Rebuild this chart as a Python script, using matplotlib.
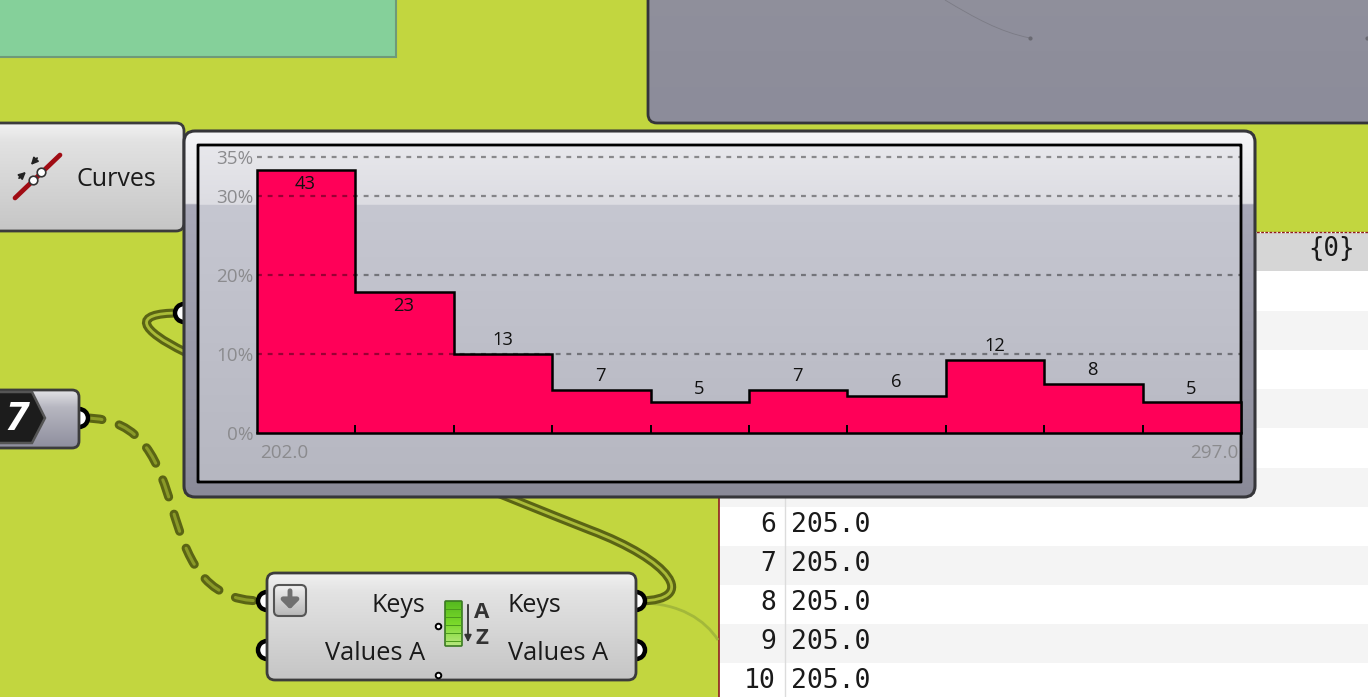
import numpy as np
import matplotlib
matplotlib.use('Agg')
import matplotlib.pyplot as plt
from matplotlib.patches import FancyBboxPatch, Circle, Polygon, PathPatch, Rectangle
from matplotlib.path import Path

# histogram data
counts = [43, 23, 13, 7, 5, 7, 6, 12, 8, 5]
x_min = 202.0
x_max = 297.0
y_ticks = [0, 10, 20, 30, 35]
y_labels = ['0%', '10%', '20%', '30%', '35%']

# table rows that stick out below the popup
row_ids = [6, 7, 8, 9, 10]
row_vals = ['205.0', '205.0', '205.0', '205.0', '205.0']

W, H = 1368, 697
plt.rcParams['font.family'] = ['Open Sans', 'DejaVu Sans']

CANVAS = '#c2d63f'
WIRE = '#5a6414'
GREY_TXT = '#8b8b8e'

fig = plt.figure(figsize=(W / 100, H / 100), dpi=100, facecolor=CANVAS)

# background layer, works in screen pixels
bg = fig.add_axes([0, 0, 1, 1])
bg.set_xlim(0, W)
bg.set_ylim(H, 0)
bg.axis('off')


def hexrgb(c):
    return [int(c[i:i + 2], 16) / 255 for i in (1, 3, 5)]


def grad_box(x0, y0, x1, y1, stops, r=8, edge='#3c3c3c', lw=2.0, z=2):
    patch = FancyBboxPatch((x0, y0), x1 - x0, y1 - y0, boxstyle='round,pad=0,rounding_size=%g' % r,
                           fc='none', ec=edge, lw=lw, zorder=z + 0.1)
    bg.add_patch(patch)
    ys = np.arange(int(y1 - y0) + 1) / (y1 - y0)
    pos = [s[0] for s in stops]
    cols = np.array([hexrgb(s[1]) for s in stops])
    img = np.stack([np.interp(ys, pos, cols[:, k]) for k in range(3)], axis=1)[:, None, :]
    im = bg.imshow(img, extent=(x0, x1, y1, y0), aspect='auto', zorder=z, interpolation='bilinear')
    clip = FancyBboxPatch((x0, y0), x1 - x0, y1 - y0, boxstyle='round,pad=0,rounding_size=%g' % r,
                          transform=bg.transData, fc='none', ec='none')
    im.set_clip_path(clip)


def port(x, y, z=1.5):
    bg.add_patch(Circle((x, y), 9, fc='white', ec='black', lw=3.2, zorder=z))


def wire(verts, codes, dashed=False):
    path = Path(verts, codes)
    if dashed:
        bg.add_patch(PathPatch(path, fc='none', ec=WIRE, lw=6.5, ls=(0, (2.0, 2.0)), capstyle='round', zorder=1))
        bg.add_patch(PathPatch(path, fc='none', ec='#8a9a28', lw=2.2, ls=(0, (5.9, 5.92)), capstyle='round', zorder=1.1))
    else:
        bg.add_patch(PathPatch(path, fc='none', ec=WIRE, lw=6.5, zorder=1))
        bg.add_patch(PathPatch(path, fc='none', ec='#aabb38', lw=2.0, zorder=1.1))


# panels at the top
bg.add_patch(Rectangle((-5, -5), 401, 62, fc='#85d09a', ec='#6f9a78', lw=1.5, zorder=1))
grad_box(648, -20, W + 20, 123, [(0, '#90909c'), (1, '#8c8c9a')], r=9, edge='#34343a')
curve = Path([(945, 0), (975, 18), (1000, 32), (1030, 38)], [Path.MOVETO, Path.CURVE4, Path.CURVE4, Path.CURVE4])
bg.add_patch(PathPatch(curve, fc='none', ec='#7b7b85', lw=0.6, zorder=3))
bg.scatter([1030, 1367], [38, 38], s=4, color='#6a6a72', zorder=3)

# table on the right
bg.add_patch(Rectangle((719, 232), W - 719, H - 232, fc='white', ec='none', zorder=0.5))
bg.add_patch(Rectangle((719, 233), W - 719, 38, fc='#d6d6d6', ec='none', zorder=0.6))
for i in range(11):
    if i % 2 == 1:
        bg.add_patch(Rectangle((719, 272 + i * 39.1), W - 719, 39.1, fc='#f4f4f4', ec='none', zorder=0.6))
bg.plot([719, W], [231.5, 231.5], color='#8f1f1f', lw=1, ls=(0, (2, 1)), zorder=0.7)
bg.plot([718.5, 718.5], [232, H], color='#8f1f1f', lw=1.2, zorder=0.7)
bg.plot([785, 785], [272, H], color='#dcdcdc', lw=1, zorder=0.7)
bg.text(1355, 249, '{0}', family='DejaVu Sans Mono', fontsize=18.5, ha='right', va='center', color='#1a1a1a', zorder=3)
for n, (rid, val) in enumerate(zip(row_ids, row_vals)):
    yy = 525 + n * 39
    bg.text(776, yy, str(rid), family='DejaVu Sans Mono', fontsize=19, ha='right', va='center', color='#1a1a1a', zorder=3)
    bg.text(791, yy, val, family='DejaVu Sans Mono', fontsize=19, ha='left', va='center', color='#1a1a1a', zorder=3)

# wires, all behind the components
C4 = Path.CURVE4
wire([(84, 418), (205, 418), (140, 601), (262, 601)], [Path.MOVETO, C4, C4, C4], dashed=True)
wire([(640, 601), (700, 600), (670, 560), (590, 530), (400, 455), (300, 410), (185, 352),
      (140, 330), (130, 313), (179, 313)],
     [Path.MOVETO, C4, C4, C4, C4, C4, C4, C4, C4, C4])
faint = Path([(640, 603), (680, 603), (705, 620), (718, 640)], [Path.MOVETO, C4, C4, C4])
bg.add_patch(PathPatch(faint, fc='none', ec='#a3b83a', lw=2, zorder=0.8))

# ports sit on the component edges, half hidden
for px, py in [(184, 313), (79, 418), (267, 601), (267, 650), (636, 601), (636, 650)]:
    port(px, py)

# Curves component
grad_box(-20, 123, 184, 231, [(0, '#f2f2f2'), (0.17, '#e2e2e2'), (1, '#c6c6c6')], r=8)
bg.plot([15, 60], [198, 155], color='#a00c14', lw=3.4, solid_capstyle='round', zorder=3)
bg.scatter([33, 41], [180, 172], s=38, color='white', edgecolor='#333333', lw=1.2, zorder=4)
bg.annotate('', xy=(28, 170), xytext=(17, 180), arrowprops=dict(arrowstyle='-|>', color='#222222', lw=1.3), zorder=4)
bg.annotate('', xy=(29, 167), xytext=(39, 156), arrowprops=dict(arrowstyle='-|>', color='#222222', lw=1.3), zorder=4)
bg.text(77, 180, 'Curves', fontsize=18, ha='left', va='center', color='#1a1a1a', zorder=4)

# number slider end
grad_box(-20, 390, 79, 448, [(0, '#e2e2e6'), (0.3, '#b6b6c0'), (1, '#8f8f9e')], r=7)
bg.add_patch(Polygon([(-12, 392), (32, 392), (45, 418), (32, 443), (-12, 443)], fc='#1c1c1c', ec='#555555', lw=1.8, zorder=3))
bg.text(17, 419, '7', fontsize=29, weight='bold', style='italic', color='white', ha='center', va='center', zorder=4)

# sort component
grad_box(267, 573, 636, 680, [(0, '#f1f1f1'), (0.17, '#e3e3e3'), (1, '#c5c5c5')], r=8)
grad_box(274, 585, 306, 616, [(0, '#f0f0f0'), (1, '#b8b8b8')], r=5, edge='#555555', lw=1.5, z=3)
bg.annotate('', xy=(290, 612), xytext=(290, 588), arrowprops=dict(arrowstyle='-|>,head_width=0.5,head_length=0.5', color='#707070', lw=3.5), zorder=5)
bg.text(425, 605, 'Keys', fontsize=18, ha='right', va='center', color='#1a1a1a', zorder=4)
bg.text(425, 653, 'Values A', fontsize=18.3, ha='right', va='center', color='#1a1a1a', zorder=4)
bg.text(508, 605, 'Keys', fontsize=18, ha='left', va='center', color='#1a1a1a', zorder=4)
bg.text(508, 653, 'Values A', fontsize=18.3, ha='left', va='center', color='#1a1a1a', zorder=4)
grad_box(445, 601, 462, 646, [(0, '#55b820'), (0.5, '#7ad92a'), (1, '#b7e77f')], r=1, edge='#3a7a22', lw=1.2, z=3)
for yy in range(609, 646, 8):
    bg.plot([446, 461], [yy, yy], color='#4a9a1c', lw=0.7, zorder=4)
bg.annotate('', xy=(468, 645), xytext=(468, 602), arrowprops=dict(arrowstyle='-|>', color='#333333', lw=1.3), zorder=4)
bg.text(482, 612, 'A', fontsize=16, weight='bold', color='#333333', ha='center', va='center', zorder=4)
bg.text(482, 638, 'Z', fontsize=16, weight='bold', color='#333333', ha='center', va='center', zorder=4)
bg.scatter([437.5, 437.5], [626, 675], s=16, color='white', edgecolor='black', lw=1.4, zorder=5)

# popup frame
grad_box(184, 131, 1255, 497, [(0, '#f6f6f8'), (0.198, '#e2e2e6'), (0.2, '#a8a8b8'), (1, '#8a8a98')], r=11, edge='#36363a', lw=2.2, z=5)
grad_box(198, 145, 1241, 482, [(0, '#e8e8ec'), (0.175, '#dcdce2'), (0.177, '#c6c7d1'), (1, '#b6b7c1')], r=0.1, edge='black', lw=2.0, z=6)

# the histogram, in its own axes over the popup
ax = fig.add_axes([257 / W, 1 - 433 / H, (1241 - 257) / W, (433 - 157) / H])
ax.patch.set_alpha(0)
for s in ax.spines.values():
    s.set_visible(False)

pct = 100 * np.array(counts) / sum(counts)
edges = np.linspace(x_min, x_max, len(counts) + 1)

ax.stairs(pct, edges, baseline=0, fill=True, color='#ff0058', lw=0, zorder=2)
ax.stairs(pct, edges, baseline=0, color='black', lw=1.8, zorder=3, clip_on=False)
ax.axhline(0, color='black', lw=1.8, zorder=4, clip_on=False)
for yt in y_ticks[1:]:
    ax.axhline(yt, color='black', alpha=0.4, lw=1.6, ls=(0, (2.2, 2.6)), zorder=5, clip_on=False)

ax.set_xlim(x_min, x_max)
ax.set_ylim(0, 35)
ax.set_axisbelow(False)
ax.set_xticks(edges[1:-1])
ax.set_xticklabels([])
ax.tick_params(axis='x', direction='in', length=6, width=1.4, color='black')
ax.set_yticks(y_ticks)
ax.set_yticklabels(y_labels, fontsize=13.6, color=GREY_TXT)
ax.tick_params(axis='y', length=0, pad=2.5)

for i, c in enumerate(counts):
    mid = (edges[i] + edges[i + 1]) / 2
    off = -16.5 if pct[i] > 15 else 3.5
    ax.annotate(str(c), (mid, pct[i]), xytext=(-0.5, off), textcoords='offset points',
                ha='center', va='bottom', fontsize=13.2, color='#111111', zorder=6)

ax.annotate('%.1f' % x_min, (x_min, 0), xytext=(2, -8.2), textcoords='offset points',
            ha='left', va='top', fontsize=13.6, color=GREY_TXT, annotation_clip=False)
ax.annotate('%.1f' % x_max, (x_max, 0), xytext=(-2, -8.2), textcoords='offset points',
            ha='right', va='top', fontsize=13.6, color=GREY_TXT, annotation_clip=False)

bg.set_xlim(0, W)
bg.set_ylim(H, 0)
fig.savefig('out.png', dpi=100, facecolor=CANVAS)
